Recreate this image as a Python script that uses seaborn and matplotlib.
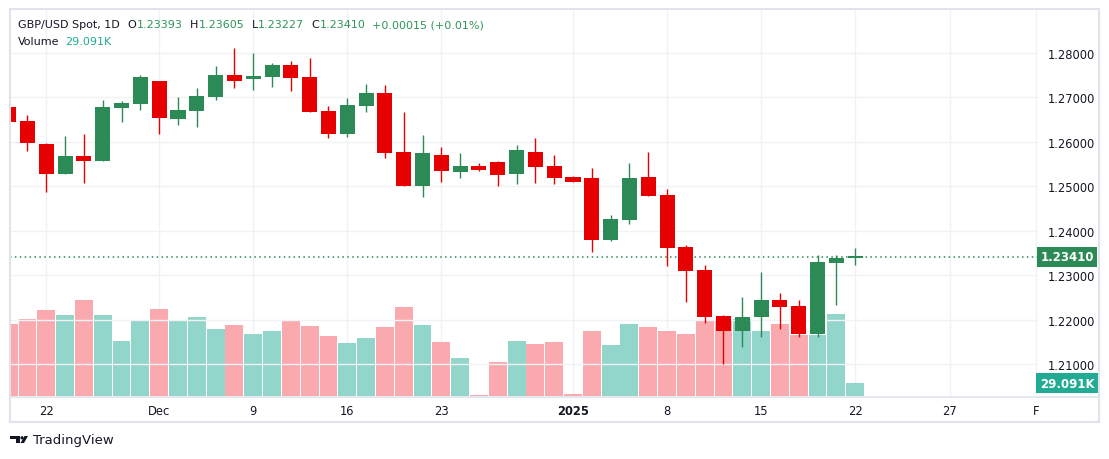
import matplotlib
matplotlib.use("Agg")
import matplotlib.pyplot as plt
import matplotlib.patches as mpatches
import matplotlib.transforms as mtransforms
import numpy as np
import pandas as pd
import seaborn as sns

# daily GBP/USD candles, 19 Nov 2024 .. 22 Jan 2025
opens = [1.2678, 1.2647, 1.2595, 1.2528, 1.2568, 1.2557, 1.2676, 1.2685, 1.2736, 1.2652,
         1.2670, 1.2701, 1.2750, 1.2742, 1.2746, 1.2772, 1.2745, 1.2669, 1.2618, 1.2681,
         1.2709, 1.2577, 1.2501, 1.2570, 1.2533, 1.2545, 1.2554, 1.2528, 1.2577, 1.2545,
         1.2521, 1.2518, 1.2378, 1.2423, 1.2521, 1.2480, 1.2363, 1.2312, 1.2208, 1.2175,
         1.2205, 1.2244, 1.2231, 1.2168, 1.2328, 1.23393]
highs = [1.2685, 1.2660, 1.2597, 1.2613, 1.2617, 1.2694, 1.2691, 1.2750, 1.2737, 1.2700,
         1.2721, 1.2770, 1.2811, 1.2799, 1.2777, 1.2781, 1.2788, 1.2680, 1.2698, 1.2730,
         1.2727, 1.2667, 1.2615, 1.2588, 1.2575, 1.2552, 1.2557, 1.2593, 1.2608, 1.2570,
         1.2524, 1.2541, 1.2435, 1.2552, 1.2577, 1.2494, 1.2368, 1.2323, 1.2211, 1.2251,
         1.2307, 1.2260, 1.2244, 1.2345, 1.2345, 1.23605]
lows = [1.2640, 1.2578, 1.2488, 1.2528, 1.2508, 1.2556, 1.2645, 1.2672, 1.2618, 1.2638,
        1.2632, 1.2694, 1.2721, 1.2717, 1.2724, 1.2715, 1.2667, 1.2609, 1.2611, 1.2667,
        1.2564, 1.2501, 1.2476, 1.2510, 1.2519, 1.2535, 1.2501, 1.2506, 1.2508, 1.2506,
        1.2510, 1.2353, 1.2377, 1.2416, 1.2479, 1.2321, 1.2240, 1.2193, 1.2101, 1.2139,
        1.2160, 1.2178, 1.2162, 1.2162, 1.2232, 1.23227]
closes = [1.2645, 1.2596, 1.2528, 1.2568, 1.2557, 1.2678, 1.2687, 1.2745, 1.2654, 1.2671,
          1.2703, 1.2750, 1.2737, 1.2748, 1.2772, 1.2744, 1.2667, 1.2618, 1.2682, 1.2709,
          1.2575, 1.2501, 1.2575, 1.2535, 1.2545, 1.2537, 1.2526, 1.2581, 1.2544, 1.2519,
          1.2510, 1.2378, 1.2426, 1.2518, 1.2479, 1.2362, 1.2310, 1.2207, 1.2175, 1.2206,
          1.2244, 1.2229, 1.2168, 1.2330, 1.2339, 1.23410]
# volume in thousands
volumes = [166, 176, 196, 185, 221, 185, 125, 171, 199, 171,
           180, 153, 162, 141, 150, 171, 160, 137, 121, 134,
           157, 203, 162, 123, 86, 2.5, 79, 125, 118, 123,
           4.5, 148, 116, 166, 157, 148, 141, 173, 171, 176,
           148, 164, 139, 139, 187, 29.091]

xtick_pos = [2, 8, 13, 18, 23, 30, 35, 40, 45, 50.04, 54.6]
xtick_labels = ["22", "Dec", "9", "16", "23", "2025", "8", "15", "22", "27", "F"]
price_ticks = [1.21, 1.22, 1.23, 1.24, 1.25, 1.26, 1.27, 1.28]
last_price = 1.23410
last_volume = 29.091

UP = "#2b8a55"
DOWN = "#e60000"
VOL_UP = "#92d5ca"
VOL_DOWN = "#faa9ae"
GRID = "#f0f2f6"
TEXT = "#131722"

sns.set_style("white")
plt.rcParams["font.family"] = ["DejaVu Sans"]

df = pd.DataFrame({"open": opens, "high": highs, "low": lows,
                   "close": closes, "volume": volumes})
df["idx"] = np.arange(len(df))
df["dir"] = np.where(df["close"] >= df["open"], "up", "down")

W, H = 1109, 460
fig = plt.figure(figsize=(W / 100, H / 100), dpi=100)
fig.patch.set_facecolor("white")

# pixel -> figure transform (y down)
px = mtransforms.Affine2D().scale(1 / W, -1 / H).translate(0, 1) + fig.transFigure

left, top, right, bottom = 10, 10, 1038, 397
ax = fig.add_axes([left / W, 1 - bottom / H, (right - left) / W, (bottom - top) / H])

# volume bars (behind candles)
sns.barplot(data=df, x="idx", y="volume", hue="dir",
            palette={"up": VOL_UP, "down": VOL_DOWN}, dodge=False,
            native_scale=True, width=0.95, saturation=1, linewidth=0,
            errorbar=None, legend=False, ax=ax)
ax.set_ylim(0, last_volume * (bottom - top) / 12.7)
ax.set_xlim(0.07, 54.72)
ax.set_xlabel("")
ax.set_ylabel("")
ax.set_yticks([])
for x in xtick_pos:
    ax.axvline(x, color=GRID, lw=1, zorder=0)
ax.set_xticks(xtick_pos)
ax.set_xticklabels(xtick_labels, fontsize=8.3, color=TEXT)
for lab in ax.get_xticklabels():
    if lab.get_text() == "2025":
        lab.set_fontweight("bold")
ax.tick_params(axis="x", length=0, pad=6)
for s in ax.spines.values():
    s.set_visible(False)

# price candles
ax2 = ax.twinx()
ax2.set_ylim(1.20285, 1.28982)
ax2.set_xlim(0.07, 54.72)
for p in price_ticks:
    ax2.axhline(p, color=GRID, lw=1, zorder=0)
ax2.axhline(last_price, color=UP, lw=1.1, ls=(0, (1, 2.2)), zorder=1)

colors = [UP if d == "up" else DOWN for d in df["dir"]]
ax2.vlines(df["idx"], df["low"], df["high"], colors=colors, lw=1.0, zorder=2)
body_lo = np.minimum(df["open"], df["close"])
body_h = np.maximum(np.abs(df["close"] - df["open"]), 0.0003)
ax2.bar(df["idx"], body_h, bottom=body_lo, width=0.8, color=colors, linewidth=0, zorder=3)

ax2.set_yticks(price_ticks)
ax2.set_yticklabels([f"{p:.5f}" for p in price_ticks], fontsize=8.3, color=TEXT)
ax2.tick_params(axis="y", length=0, pad=7)
for s in ax2.spines.values():
    s.set_visible(False)

# last value badges on the right scale
ax2.text(1.0283, last_price, f"{last_price:.5f}", transform=ax2.get_yaxis_transform(),
         ha="center", va="center", color="white", fontsize=8.5, fontweight="bold",
         bbox=dict(boxstyle="square,pad=0.3", fc=UP, ec="none"), zorder=10, clip_on=False)
ax.text(1.0283, last_volume, f"{last_volume:.3f}K", transform=ax.get_yaxis_transform(),
        ha="center", va="center", color="white", fontsize=8.5, fontweight="bold",
        bbox=dict(boxstyle="square,pad=0.3", fc="#22ab94", ec="none"), zorder=10, clip_on=False)

# frame and time-scale separator
fig.patches.append(mpatches.Rectangle((10, 9.5), 1089, 413.5, transform=px, fill=False,
                                      ec="#e0e3eb", lw=1.5))
fig.lines.append(plt.Line2D([10, 1099], [397.5, 397.5], transform=px, color="#e0e3eb", lw=1.2))

# legend header, pieces placed one after another
renderer = fig.canvas.get_renderer()
GREEN_TXT = "#2e9558"


def text_run(x, y, pieces):
    for s, color, gap in pieces:
        t = fig.text(x, y, s, transform=px, fontsize=8, color=color, va="center")
        x = t.get_window_extent(renderer).x1 + gap
    return x


text_run(18, 25, [("GBP/USD Spot, 1D", TEXT, 8),
                  ("O", TEXT, 0.5), ("1.23393", GREEN_TXT, 7),
                  ("H", TEXT, 0.5), ("1.23605", GREEN_TXT, 7),
                  ("L", TEXT, 0.5), ("1.23227", GREEN_TXT, 7),
                  ("C", TEXT, 0.5), ("1.23410", GREEN_TXT, 7),
                  ("+0.00015 (+0.01%)", GREEN_TXT, 0)])
text_run(18, 42, [("Volume", TEXT, 6), ("29.091K", "#22ab94", 0)])

# TradingView mark
fig.patches.append(mpatches.Rectangle((10, 437), 9.5, 3.2, transform=px, fc=TEXT, ec="none"))
fig.patches.append(mpatches.Rectangle((15.5, 437), 4, 7, transform=px, fc=TEXT, ec="none"))
fig.patches.append(mpatches.Circle((22, 438.8), 1.6, transform=px, fc=TEXT, ec="none"))
fig.patches.append(mpatches.Polygon([(24.5, 437), (28, 437), (24, 444), (20.5, 444)],
                                    closed=True, transform=px, fc=TEXT, ec="none"))
fig.text(33, 441, "TradingView", transform=px, fontsize=9.5, color=TEXT, va="center")

fig.savefig("out.png", dpi=100)
